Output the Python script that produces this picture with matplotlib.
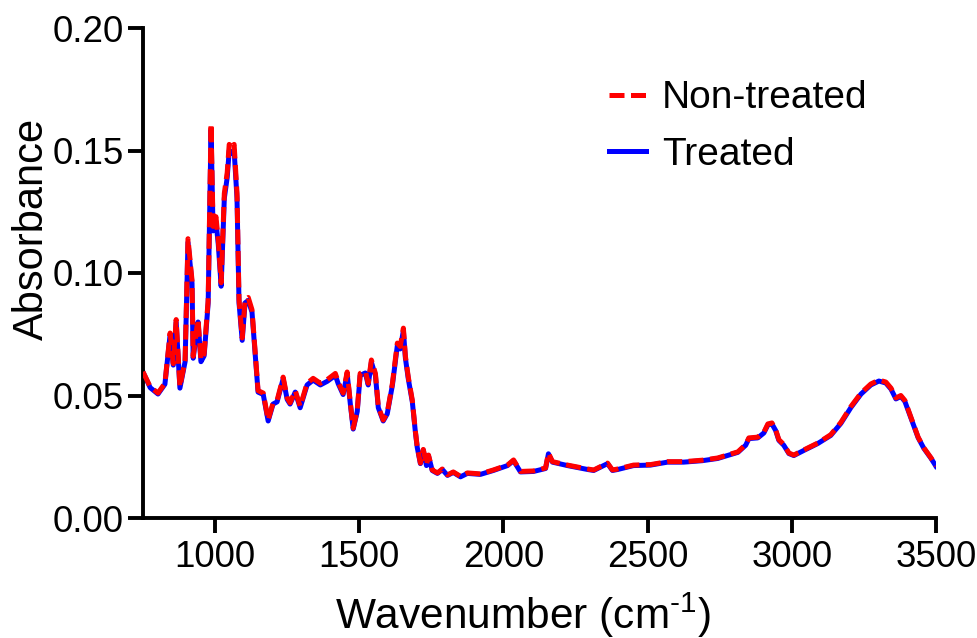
import matplotlib.pyplot as plt

plt.rcParams["font.family"] = ["Liberation Sans", "DejaVu Sans"]
plt.rcParams["mathtext.fontset"] = "custom"
plt.rcParams["mathtext.rm"] = "Liberation Sans"

# wavenumber (cm-1) and absorbance
wavenumber = [750, 775, 802, 826, 844, 855, 865, 878, 896, 906, 920, 924, 937, 941, 951,
              962, 976, 986, 993, 1003, 1011, 1021, 1032, 1042, 1049, 1059, 1066, 1076, 1083,
              1094, 1104, 1115, 1128, 1149, 1167, 1184, 1201, 1215, 1236, 1250, 1260, 1278,
              1295, 1319, 1340, 1365, 1389, 1417, 1427, 1444, 1458, 1469, 1479, 1493, 1503,
              1521, 1531, 1542, 1556, 1566, 1583, 1597, 1615, 1632, 1642, 1653, 1660, 1670,
              1684, 1694, 1701, 1712, 1722, 1733, 1740, 1753, 1771, 1788, 1806, 1826, 1851,
              1875, 1920, 1965, 2014, 2035, 2059, 2104, 2146, 2156, 2170, 2222, 2292, 2313,
              2361, 2378, 2396, 2451, 2510, 2569, 2625, 2690, 2743, 2813, 2840, 2851, 2882,
              2903, 2917, 2931, 2944, 2955, 2972, 2990, 3007, 3042, 3090, 3135, 3170, 3205,
              3240, 3274, 3302, 3326, 3344, 3361, 3378, 3392, 3413, 3438, 3458, 3483, 3500]

non_treated = [0.0597, 0.0535, 0.0510, 0.0550, 0.0755, 0.0630, 0.0810, 0.0535, 0.0645, 0.1140,
               0.0970, 0.0660, 0.0780, 0.0810, 0.0645, 0.0670, 0.0890, 0.1610, 0.1190, 0.1230,
               0.1135, 0.0960, 0.1325, 0.1410, 0.1525, 0.1510, 0.1525, 0.1325, 0.0890, 0.0735,
               0.0890, 0.0900, 0.0850, 0.0520, 0.0510, 0.0400, 0.0470, 0.0480, 0.0575, 0.0490,
               0.0470, 0.0520, 0.0455, 0.0550, 0.0570, 0.0550, 0.0565, 0.0590, 0.0555, 0.0510,
               0.0596, 0.0470, 0.0367, 0.0440, 0.0590, 0.0600, 0.0550, 0.0645, 0.0590, 0.0455,
               0.0400, 0.0430, 0.0550, 0.0714, 0.0700, 0.0775, 0.0660, 0.0575, 0.0480, 0.0360,
               0.0290, 0.0224, 0.0280, 0.0216, 0.0257, 0.0196, 0.0184, 0.0200, 0.0176, 0.0188,
               0.0170, 0.0184, 0.0180, 0.0196, 0.0216, 0.0237, 0.0190, 0.0192, 0.0204, 0.0265,
               0.0230, 0.0216, 0.0200, 0.0196, 0.0224, 0.0196, 0.0200, 0.0216, 0.0218, 0.0230,
               0.0230, 0.0236, 0.0245, 0.0270, 0.0300, 0.0327, 0.0330, 0.0350, 0.0384, 0.0388,
               0.0360, 0.0320, 0.0300, 0.0265, 0.0257, 0.0278, 0.0306, 0.0340, 0.0390, 0.0455,
               0.0510, 0.0547, 0.0563, 0.0555, 0.0530, 0.0490, 0.0500, 0.0480, 0.0412, 0.0330,
               0.0286, 0.0245, 0.0212]

treated = [0.0595, 0.0532, 0.0506, 0.0546, 0.0748, 0.0624, 0.0800, 0.0530, 0.0638, 0.1125,
           0.0958, 0.0652, 0.0770, 0.0800, 0.0638, 0.0662, 0.0878, 0.1585, 0.1172, 0.1210,
           0.1118, 0.0946, 0.1305, 0.1390, 0.1500, 0.1488, 0.1500, 0.1305, 0.0878, 0.0725,
           0.0878, 0.0888, 0.0840, 0.0514, 0.0504, 0.0396, 0.0465, 0.0474, 0.0568, 0.0484,
           0.0465, 0.0514, 0.0450, 0.0543, 0.0563, 0.0543, 0.0558, 0.0582, 0.0548, 0.0504,
           0.0588, 0.0465, 0.0363, 0.0435, 0.0582, 0.0592, 0.0543, 0.0636, 0.0582, 0.0450,
           0.0396, 0.0425, 0.0543, 0.0704, 0.0690, 0.0765, 0.0652, 0.0568, 0.0474, 0.0357,
           0.0288, 0.0222, 0.0277, 0.0214, 0.0254, 0.0194, 0.0182, 0.0198, 0.0174, 0.0186,
           0.0168, 0.0182, 0.0178, 0.0194, 0.0214, 0.0234, 0.0188, 0.0190, 0.0202, 0.0262,
           0.0228, 0.0214, 0.0198, 0.0194, 0.0222, 0.0194, 0.0198, 0.0214, 0.0216, 0.0228,
           0.0228, 0.0234, 0.0243, 0.0268, 0.0297, 0.0324, 0.0327, 0.0347, 0.0380, 0.0384,
           0.0357, 0.0317, 0.0297, 0.0263, 0.0255, 0.0276, 0.0304, 0.0337, 0.0386, 0.0451,
           0.0506, 0.0543, 0.0559, 0.0551, 0.0526, 0.0486, 0.0496, 0.0476, 0.0409, 0.0328,
           0.0284, 0.0243, 0.0211]

xticks = [1000, 1500, 2000, 2500, 3000, 3500]
yticks = [0.00, 0.05, 0.10, 0.15, 0.20]

fig = plt.figure(figsize=(9.78, 6.38), dpi=100)
ax = fig.add_axes([143 / 978, 1 - 518 / 638, (936 - 143) / 978, (518 - 28) / 638])

ax.plot(wavenumber, treated, color="#0000ff", lw=3.6, label="Treated", zorder=2)
ax.plot(wavenumber, non_treated, color="#ff0000", lw=3.6, ls=(0, (3, 1.3)),
        label="Non-treated", zorder=3)

ax.set_xlim(750, 3500)
ax.set_ylim(0, 0.20)
ax.set_xticks(xticks)
ax.set_yticks(yticks)
ax.set_yticklabels([f"{v:.2f}" for v in yticks])

for side in ["top", "right"]:
    ax.spines[side].set_visible(False)
for side in ["left", "bottom"]:
    ax.spines[side].set_linewidth(2.8)
ax.tick_params(width=2.8, length=11, labelsize=26.5, pad=3)
ax.tick_params(axis="x", pad=5)

ax.set_xlabel(r"Wavenumber (cm$^{\text{-1}}$)", fontsize=30.5)
ax.xaxis.set_label_coords(0.479, -0.148)
ax.set_ylabel("Absorbance", fontsize=30)
ax.yaxis.set_label_coords(-0.115, 0.59)

handles, labels = ax.get_legend_handles_labels()
ax.legend(handles[::-1], labels[::-1], loc="upper left", bbox_to_anchor=(0.588, 0.893),
          frameon=False, fontsize=28, handlelength=0.95, handletextpad=0.4,
          labelspacing=0.52, borderpad=0, borderaxespad=0)

fig.savefig("out.png", dpi=100)
